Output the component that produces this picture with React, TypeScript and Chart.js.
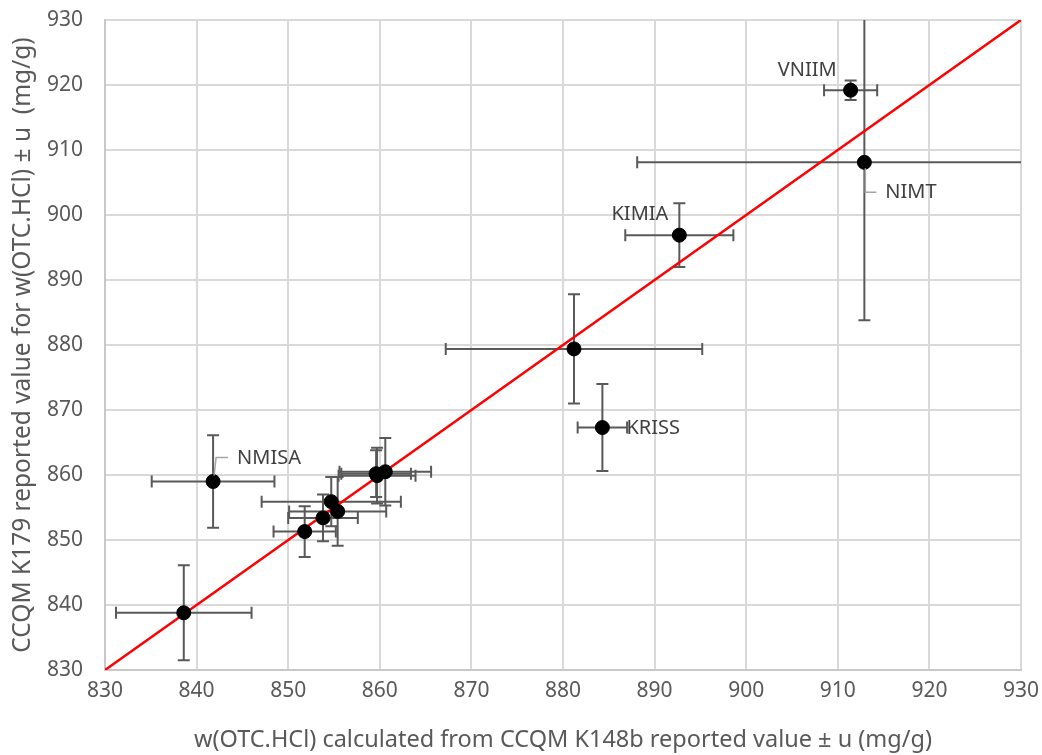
import React, { useEffect, useRef } from "react";
import { Chart, registerables } from "chart.js";

Chart.register(...registerables);

// Reported values (mg/g)
const xValues = [838.6, 841.8, 851.8, 853.8, 854.7, 855.4, 859.6, 859.7, 860.6, 881.2, 884.3, 892.7, 911.4, 912.9];
const yValues = [838.8, 859.0, 851.3, 853.4, 855.9, 854.4, 860.2, 859.9, 860.5, 879.4, 867.3, 896.9, 919.2, 908.1];
const xErrors = [7.4, 6.7, 3.4, 3.8, 7.6, 5.3, 3.8, 4.2, 5.0, 14.0, 2.7, 5.9, 2.9, 24.8];
const yErrors = [7.3, 7.1, 3.9, 3.6, 3.8, 5.3, 3.6, 4.3, 5.2, 8.4, 6.7, 4.9, 1.5, 24.3];
const pointNames = ["", "NMISA", "", "", "", "", "", "", "", "", "KRISS", "KIMIA", "VNIIM", "NIMT"];

const lineX = [830, 930];
const lineY = [830, 930];

const axisMin = 830;
const axisMax = 930;
const axisStep = 10;

const xTitle = "w(OTC.HCl) calculated from CCQM K148b reported value ± u (mg/g)";
const yTitle = "CCQM K179 reported value for w(OTC.HCl) ± u  (mg/g)";

// label placement styles (pixel offsets from the point)
const labelStyles: Record<string, { dx: number; dy: number; align: CanvasTextAlign; leader?: number[][] }> = {
  NMISA: { dx: 24, dy: -23, align: "left", leader: [[1, -6], [3, -24], [15, -24]] },
  KRISS: { dx: 24, dy: 1, align: "left" },
  KIMIA: { dx: -11, dy: -21, align: "right" },
  VNIIM: { dx: -14, dy: -20, align: "right" },
  NIMT: { dx: 21, dy: 30, align: "left", leader: [[1, 6], [1, 30], [12, 30]] },
};

const FONT = "'Noto Sans', 'DejaVu Sans', sans-serif";

const errorBarPlugin = {
  id: "errorBars",
  beforeDatasetsDraw(chart: any) {
    const { ctx, chartArea, scales } = chart;
    const xs = scales.x;
    const ys = scales.y;
    ctx.save();
    ctx.beginPath();
    ctx.rect(chartArea.left, chartArea.top, chartArea.right - chartArea.left, chartArea.bottom - chartArea.top);
    ctx.clip();
    ctx.strokeStyle = "#595959";
    ctx.lineWidth = 2;
    const cap = 6;
    for (let i = 0; i < xValues.length; i++) {
      const px = xs.getPixelForValue(xValues[i]);
      const py = ys.getPixelForValue(yValues[i]);
      const xl = xs.getPixelForValue(xValues[i] - xErrors[i]);
      const xr = xs.getPixelForValue(xValues[i] + xErrors[i]);
      const yt = ys.getPixelForValue(yValues[i] + yErrors[i]);
      const yb = ys.getPixelForValue(yValues[i] - yErrors[i]);
      ctx.beginPath();
      ctx.moveTo(xl, py);
      ctx.lineTo(xr, py);
      ctx.moveTo(xl, py - cap);
      ctx.lineTo(xl, py + cap);
      ctx.moveTo(xr, py - cap);
      ctx.lineTo(xr, py + cap);
      ctx.moveTo(px, yt);
      ctx.lineTo(px, yb);
      ctx.moveTo(px - cap, yt);
      ctx.lineTo(px + cap, yt);
      ctx.moveTo(px - cap, yb);
      ctx.lineTo(px + cap, yb);
      ctx.stroke();
    }
    ctx.restore();
  },
  afterDatasetsDraw(chart: any) {
    const { ctx, scales } = chart;
    const xs = scales.x;
    const ys = scales.y;
    ctx.save();
    ctx.font = `20px ${FONT}`;
    ctx.fillStyle = "#404040";
    ctx.textBaseline = "middle";
    for (let i = 0; i < xValues.length; i++) {
      const name = pointNames[i];
      if (!name) continue;
      const st = labelStyles[name];
      const px = xs.getPixelForValue(xValues[i]);
      const py = ys.getPixelForValue(yValues[i]);
      if (st.leader) {
        ctx.strokeStyle = "#a6a6a6";
        ctx.lineWidth = 1.5;
        ctx.beginPath();
        st.leader.forEach((p, k) => {
          if (k === 0) ctx.moveTo(px + p[0], py + p[1]);
          else ctx.lineTo(px + p[0], py + p[1]);
        });
        ctx.stroke();
      }
      ctx.textAlign = st.align;
      ctx.fillText(name, px + st.dx, py + st.dy);
    }
    ctx.restore();
  },
};

export default function App() {
  const canvasRef = useRef<HTMLCanvasElement | null>(null);

  useEffect(() => {
    if (!canvasRef.current) return;
    const points = xValues.map((x, i) => ({ x, y: yValues[i] }));
    const linePts = lineX.map((x, i) => ({ x, y: lineY[i] }));
    const chart = new Chart(canvasRef.current, {
      type: "scatter",
      data: {
        datasets: [
          {
            type: "scatter",
            label: "Results",
            data: points,
            backgroundColor: "#000000",
            borderColor: "#000000",
            pointRadius: 7,
            pointHoverRadius: 7,
            order: 0,
          },
          {
            type: "line",
            label: "y = x",
            data: linePts,
            borderColor: "#ff0000",
            borderWidth: 2.5,
            pointRadius: 0,
            fill: false,
            order: 1,
          } as any,
        ],
      },
      options: {
        responsive: false,
        animation: false,
        events: [],
        layout: { padding: { top: 20, right: 21, left: 0, bottom: 0 } },
        plugins: {
          legend: { display: false },
          tooltip: { enabled: false },
        },
        scales: {
          x: {
            type: "linear",
            min: axisMin,
            max: axisMax,
            ticks: {
              stepSize: axisStep,
              color: "#595959",
              font: { family: FONT, size: 21 },
              padding: 8,
              callback: (v: any) => String(v),
            },
            grid: { color: "#d9d9d9", lineWidth: 2, drawTicks: false },
            border: { color: "#c8c8c8", width: 2 },
            title: {
              display: true,
              text: xTitle,
              color: "#595959",
              font: { family: FONT, size: 23.5 },
              padding: { top: 0, bottom: 1 },
            },
            afterFit: (scale: any) => {
              scale.height = 85;
              scale.paddingLeft = 0;
              scale.paddingRight = 0;
            },
          },
          y: {
            type: "linear",
            min: axisMin,
            max: axisMax,
            ticks: {
              stepSize: axisStep,
              color: "#595959",
              font: { family: FONT, size: 21 },
              padding: 22,
              callback: (v: any) => String(v),
            },
            grid: { color: "#d9d9d9", lineWidth: 2, drawTicks: false },
            border: { color: "#c8c8c8", width: 2 },
            title: {
              display: true,
              text: yTitle,
              color: "#595959",
              font: { family: FONT, size: 24.5 },
              padding: { top: 8, bottom: 0 },
            },
            afterFit: (scale: any) => {
              scale.width = 105;
              scale.paddingTop = 0;
              scale.paddingBottom = 0;
            },
          },
        },
      },
      plugins: [errorBarPlugin],
    });
    return () => chart.destroy();
  }, []);

  return (
    <canvas
      ref={canvasRef}
      width={1042}
      height={755}
      style={{ position: "absolute", left: 0, top: 0, width: 1042, height: 755 }}
    />
  );
}
